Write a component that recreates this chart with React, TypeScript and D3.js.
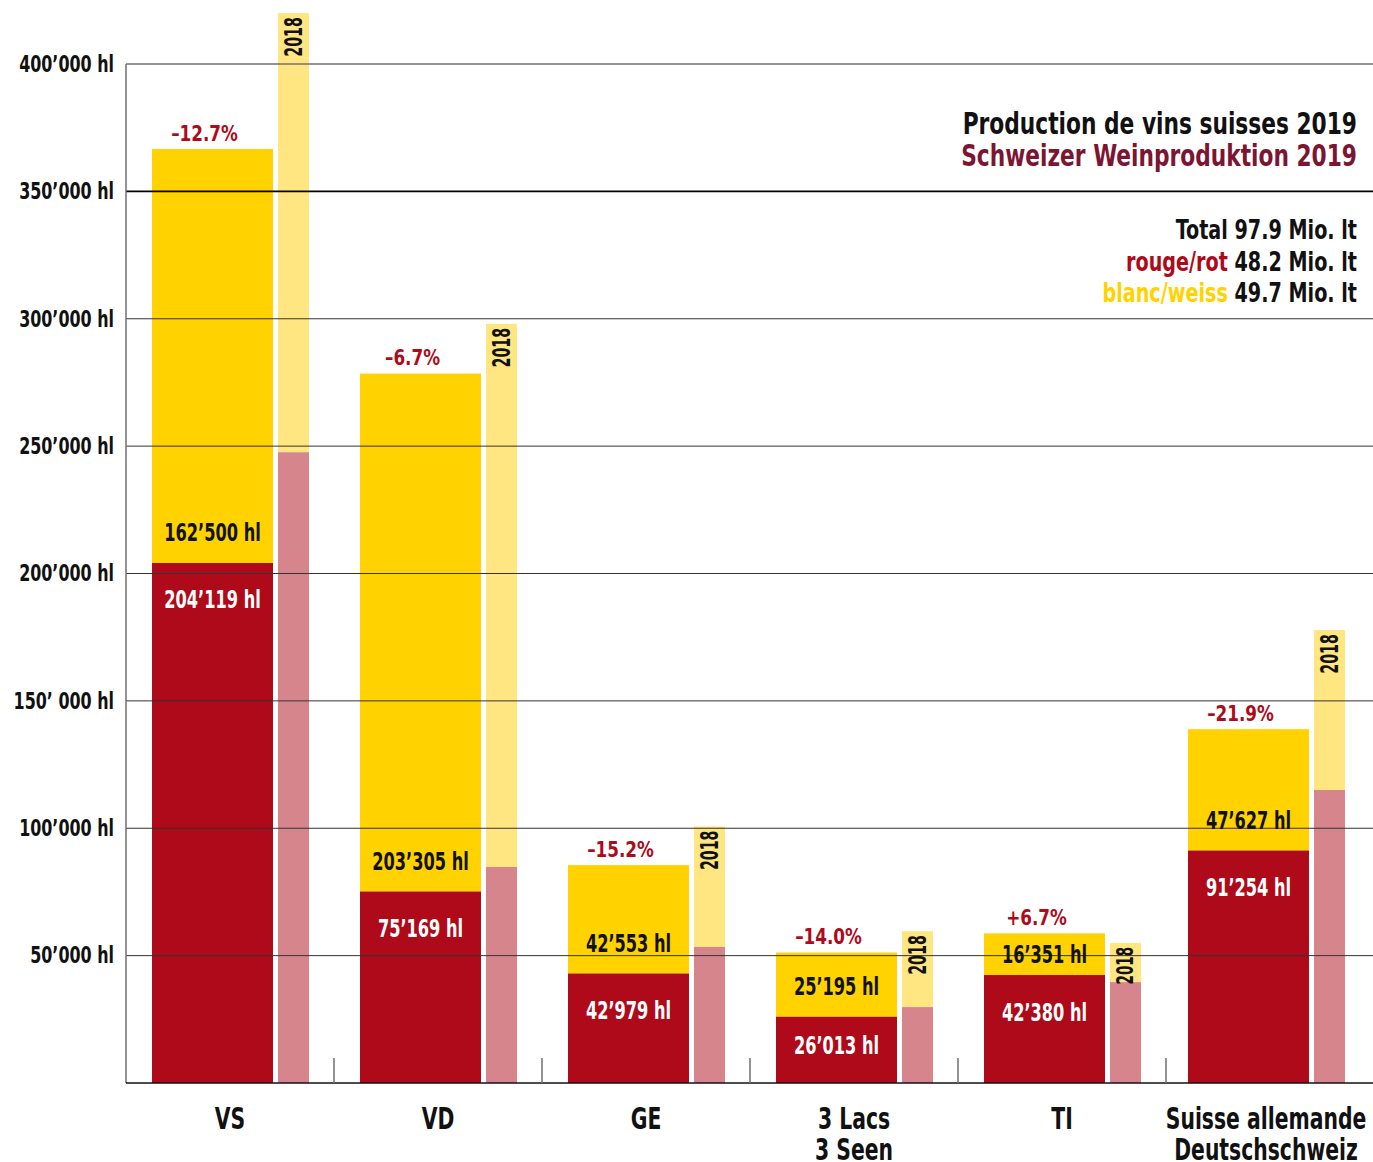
import * as d3 from "d3";
import React from "react";

// group labels (one entry per line)
const categories = ["VS", "VD", "GE", "3L", "TI", "DS"];
const categoryLines = [["VS"], ["VD"], ["GE"], ["3 Lacs", "3 Seen"], ["TI"], ["Suisse allemande", "Deutschschweiz"]];

// 2019 production, hl
const red2019 = [204119, 75169, 42979, 26013, 42380, 91254];
const white2019 = [162500, 203305, 42553, 25195, 16351, 47627];
const red2019Labels = ["204’119 hl", "75’169 hl", "42’979 hl", "26’013 hl", "42’380 hl", "91’254 hl"];
const white2019Labels = ["162’500 hl", "203’305 hl", "42’553 hl", "25’195 hl", "16’351 hl", "47’627 hl"];

// 2018 production, hl
const red2018 = [247600, 84800, 53400, 29800, 39600, 115000];
const total2018 = [420000, 298000, 100700, 59600, 55000, 177800];

const changes = ["–12.7%", "–6.7%", "–15.2%", "–14.0%", "+6.7%", "–21.9%"];

const yTicks = [50000, 100000, 150000, 200000, 250000, 300000, 350000, 400000];
const yTickLabels = ["50’000 hl", "100’000 hl", "150’ 000 hl", "200’000 hl", "250’000 hl", "300’000 hl", "350’000 hl", "400’000 hl"];

const RED = "#ae0a1a";
const YELLOW = "#ffd200";
const LIGHT_RED = "#d7858c";
const LIGHT_YELLOW = "#ffe680";
const WINE = "#7c1532";
const FONT = "'DejaVu Sans Condensed', 'DejaVu Sans', sans-serif";

// condensed text: the available fonts are too wide, squeeze them horizontally
const T = ({ x, y, sx = 0.78, rotate = 0, children, ...rest }: any) => (
  <text transform={`translate(${x},${y})${rotate ? ` rotate(${rotate})` : ""} scale(${sx},1)`} {...rest}>
    {children}
  </text>
);

export default function App() {
  const width = 1373, height = 1162;
  const left = 126, right = 1374, top = 64, bottom = 1083;

  const x = d3.scaleBand().domain(categories).range([left, right]).padding(0);
  const y = d3.scaleLinear().domain([0, 400000]).range([bottom, top]);

  const barOff = 26, barW = 121, gap = 5, bar18W = 31;
  // the last group sits a little further left
  const last = categories.length - 1;
  const offset = (i: number) => (i === last ? barOff - 4 : barOff);

  return (
    <svg width={width} height={height} style={{ position: "absolute", left: 0, top: 0 }} fontFamily={FONT} fontWeight="bold">
      <rect width={width} height={height} fill="#fff" />

      {/* bars */}
      {categories.map((c, i) => {
        const x0 = x(c)! + offset(i);
        const x1 = x0 + barW + gap;
        const yRed = y(red2019[i]);
        const yTot = y(red2019[i] + white2019[i]);
        const yRed18 = y(red2018[i]);
        const yTot18 = y(total2018[i]);
        return (
          <g key={c}>
            <rect x={x0} y={yTot} width={barW} height={yRed - yTot} fill={YELLOW} />
            <rect x={x0} y={yRed} width={barW} height={bottom - yRed} fill={RED} />
            <rect x={x1} y={yTot18} width={bar18W} height={yRed18 - yTot18} fill={LIGHT_YELLOW} />
            <rect x={x1} y={yRed18} width={bar18W} height={bottom - yRed18} fill={LIGHT_RED} />
          </g>
        );
      })}

      {/* gridlines */}
      {yTicks.map((t) => (
        <line key={t} x1={left} x2={width} y1={y(t)} y2={y(t)}
          stroke={t === 400000 ? "#707070" : t === 350000 ? "#000" : "#333"}
          strokeWidth={t >= 350000 ? 1.6 : 1} />
      ))}
      {/* axes */}
      <line x1={left} x2={left} y1={top} y2={bottom} stroke="#707070" strokeWidth={1.5} />
      <line x1={left} x2={width} y1={bottom} y2={bottom} stroke="#111" strokeWidth={1.5} />
      {categories.slice(1).map((c) => (
        <line key={c} x1={x(c)!} x2={x(c)!} y1={bottom - 25} y2={bottom} stroke="#707070" strokeWidth={1.5} />
      ))}

      {/* y tick labels */}
      {yTicks.map((t, i) => (
        <T key={t} x={114} y={y(t)} sx={0.77} textAnchor="end" dominantBaseline="central" fontSize={23} fill="#111">
          {yTickLabels[i]}
        </T>
      ))}

      {/* bar labels */}
      {categories.map((c, i) => {
        const x0 = x(c)! + offset(i);
        const cx = x0 + barW / 2;
        const x1c = x0 + barW + gap + bar18W / 2;
        const yRed = y(red2019[i]);
        const yTot = y(red2019[i] + white2019[i]);
        const yRed18 = y(red2018[i]);
        const yTot18 = y(total2018[i]);
        const wY = Math.max(yRed - 30, (yRed + yTot) / 2);
        const rY = Math.min(yRed + 37, (yRed + bottom) / 2 - 4);
        const fs18 = Math.min(24, (yRed18 - yTot18 - 4) / 1.55);
        return (
          <g key={c}>
            <T x={cx - 8} y={yTot - 16} sx={0.85} textAnchor="middle" dominantBaseline="central" fontSize={22} fill={RED}>
              {changes[i]}
            </T>
            <T x={cx} y={wY} sx={0.75} textAnchor="middle" dominantBaseline="central" fontSize={24} fill="#111">
              {white2019Labels[i]}
            </T>
            <T x={cx} y={rY} sx={0.75} textAnchor="middle" dominantBaseline="central" fontSize={24} fill="#fff">
              {red2019Labels[i]}
            </T>
            <T x={x1c} y={yTot18 + 4} rotate={-90} sx={0.66} textAnchor="end" dominantBaseline="central"
              fontSize={fs18} fill="#111">
              2018
            </T>
          </g>
        );
      })}

      {/* category labels */}
      {categories.map((c, i) =>
        categoryLines[i].map((l, j) => (
          <T key={c + j} x={x(c)! + x.bandwidth() / 2 - (i === last ? 4 : 0)} y={1118 + j * 31}
            sx={0.73} textAnchor="middle" dominantBaseline="central" fontSize={31} fill="#111">
            {l}
          </T>
        ))
      )}

      {/* title */}
      <T x={1357} y={134} textAnchor="end" fontSize={31} fill="#111">Production de vins suisses 2019</T>
      <T x={1357} y={166} textAnchor="end" fontSize={31} fill={WINE}>Schweizer Weinproduktion 2019</T>

      <T x={1357} y={239} sx={0.82} textAnchor="end" fontSize={26} fill="#111">Total 97.9 Mio. lt</T>
      <T x={1357} y={271} sx={0.82} textAnchor="end" fontSize={26} fill="#111">
        <tspan fill={RED}>rouge/rot</tspan> 48.2 Mio. lt
      </T>
      <T x={1357} y={302} sx={0.82} textAnchor="end" fontSize={26} fill="#111">
        <tspan fill={YELLOW}>blanc/weiss</tspan> 49.7 Mio. lt
      </T>
    </svg>
  );
}
